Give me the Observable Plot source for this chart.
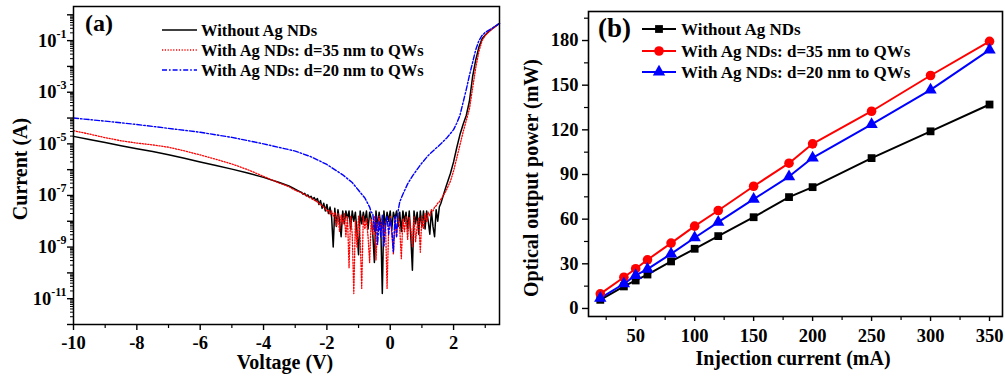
<!DOCTYPE html>
<html><head><meta charset="utf-8">
<script src="https://cdn.jsdelivr.net/npm/d3@7"></script>
<script src="https://cdn.jsdelivr.net/npm/@observablehq/plot@0.6"></script>
<style>
body{margin:0;background:#fff;}
#wrap{display:flex;width:1005px;height:379px;overflow:hidden;}
svg text{font-family:"Liberation Serif","Times New Roman",serif;font-weight:bold;}
</style></head><body><div id="wrap"></div>
<script>
// ---------- shared ----------
const seriesNames = ["Without Ag NDs", "With Ag NDs: d=35 nm to QWs", "With Ag NDs: d=20 nm to QWs"];
const seriesColors = ["#000000", "#ff0000", "#0000ff"];

// ---------- panel (a): I-V, log10 of current (A) ----------
const noiseV = [-2.80,-2.75,-2.70,-2.65,-2.60,-2.55,-2.50,-2.45,-2.40,-2.35,
  -2.30,-2.25,-2.20,-2.15,-2.10,-2.05,-2.00,-1.95,-1.90,-1.85,
  -1.80,-1.75,-1.70,-1.65,-1.60,-1.55,-1.50,-1.45,-1.40,-1.35,
  -1.30,-1.25,-1.20,-1.15,-1.10,-1.05,-1.00,-0.95,-0.90,-0.85,
  -0.80,-0.75,-0.70,-0.65,-0.60,-0.55,-0.50,-0.45,-0.40,-0.35,
  -0.30,-0.25,-0.20,-0.15,-0.10,-0.05,0.00,0.05,0.10,0.15,
  0.20,0.25,0.30,0.35,0.40,0.45,0.50,0.55,0.60,0.65,
  0.70,0.75,0.80,0.85,0.90,0.95,1.00,1.05,1.10,1.15,
  1.20,1.25,1.30,1.35,1.40,1.45,1.50,1.55,1.60];
const leftV = [-10,-9.5,-9,-8.5,-8,-7.5,-7,-6.5,-6,-5.5,-5,-4.5,-4,-3.5,-3.2,-3.0,-2.9];
const rightV = [1.65,1.75,1.9,2.0,2.1,2.2,2.3,2.4,2.5,2.6,2.7,2.8,2.9,3.0,3.1,3.2,3.3,3.45];

const blackLeftLog = [-4.71,-4.83,-4.95,-5.07,-5.19,-5.30,-5.42,-5.56,-5.70,-5.84,-5.98,-6.13,-6.30,-6.50,-6.63,-6.76,-6.82];
const blackNoiseLog = [-6.88,-6.95,-6.92,-7.02,-6.98,-7.08,-7.03,-7.15,-7.08,-7.20,
  -7.12,-7.35,-7.20,-7.50,-7.30,-7.60,-7.35,-7.70,-7.45,-7.85,
  -9.00,-7.50,-8.20,-7.55,-8.00,-8.60,-7.60,-8.10,-7.60,-7.90,
  -7.60,-8.30,-7.60,-8.00,-7.65,-8.40,-9.30,-7.60,-8.10,-7.65,
  -8.00,-7.60,-8.30,-7.65,-7.90,-8.50,-9.60,-7.60,-8.20,-7.65,
  -8.10,-10.80,-7.60,-8.20,-7.65,-8.00,-7.60,-8.30,-7.65,-7.90,
  -7.60,-8.20,-7.65,-8.40,-7.60,-8.00,-7.65,-8.30,-7.60,-8.60,
  -9.90,-7.60,-8.10,-7.65,-8.50,-7.60,-8.20,-7.60,-8.30,-7.60,
  -8.00,-8.50,-7.60,-8.20,-8.60,-7.55,-8.00,-7.45,-7.30];
const blackRightLog = [-7.10,-6.70,-6.15,-5.70,-5.15,-4.65,-4.25,-3.90,-3.35,-2.40,-1.75,-1.25,-0.93,-0.78,-0.66,-0.56,-0.47,-0.33];

const redLeftLog = [-4.49,-4.62,-4.76,-4.88,-4.97,-5.04,-5.13,-5.27,-5.43,-5.60,-5.78,-6.00,-6.26,-6.52,-6.66,-6.80,-6.85];
const redNoiseLog = [-6.90,-6.93,-6.97,-7.00,-7.03,-7.07,-7.10,-7.15,-7.18,-7.22,
  -7.25,-7.30,-7.35,-7.40,-7.45,-7.50,-7.60,-7.55,-7.75,-7.60,
  -7.80,-7.65,-8.20,-7.70,-8.40,-7.75,-8.10,-7.70,-8.60,-7.80,
  -9.80,-7.80,-8.50,-10.80,-8.00,-9.00,-7.80,-8.60,-10.60,-7.80,
  -8.30,-7.90,-8.60,-9.60,-7.90,-8.50,-7.80,-9.50,-8.20,-7.80,
  -8.40,-7.90,-8.80,-8.00,-10.60,-8.30,-7.80,-8.50,-9.27,-7.90,
  -8.60,-7.80,-8.30,-9.45,-7.90,-8.40,-7.80,-8.70,-7.85,-8.30,
  -9.00,-7.80,-8.80,-8.20,-7.85,-9.20,-7.80,-8.30,-7.70,-8.00,
  -7.65,-7.80,-7.55,-7.60,-7.45,-7.40,-7.30,-7.25,-7.15];
const redRightLog = [-7.05,-6.85,-6.45,-6.05,-5.55,-5.05,-4.55,-4.10,-3.65,-2.85,-2.05,-1.42,-1.00,-0.80,-0.67,-0.57,-0.47,-0.33];

const blueV = [-10,-9,-8,-7,-6,-5,-4,-3,-2.5,-2,-1.5,-1.2,-1.0,-0.8,-0.65,
  -0.60,-0.55,-0.50,-0.45,-0.40,-0.35,-0.30,-0.25,-0.20,-0.15,-0.10,-0.05,0.00,0.05,0.10,0.15,0.20,
  0.25,0.3,0.4,0.55,0.7,0.96,1.2,1.4,1.6,1.8,2.0,2.1,2.2,2.3,2.4,2.5,2.6,2.7,2.8,2.9,3.0,3.2,3.45];
const blueLog = [-4.00,-4.12,-4.25,-4.40,-4.55,-4.75,-5.00,-5.28,-5.50,-5.80,-6.20,-6.50,-6.80,-7.10,-7.45,
  -7.65,-7.70,-8.40,-7.80,-8.90,-8.00,-8.60,-7.75,-9.00,-8.10,-7.80,-8.50,-7.90,-8.30,-9.20,-7.80,-8.60,
  -7.60,-7.25,-6.95,-6.55,-6.25,-5.80,-5.45,-5.22,-5.00,-4.75,-4.45,-4.20,-3.90,-3.40,-2.90,-2.35,-1.85,-1.35,-1.00,-0.80,-0.68,-0.53,-0.33];

const voltTicks = [-10,-8,-6,-4,-2,0,2];
const voltMinor = [-9,-7,-5,-3,-1,1,3];
const decadeExps = [-12,-11,-10,-9,-8,-7,-6,-5,-4,-3,-2,-1,0];
const labeledExps = [-11,-9,-7,-5,-3,-1];

// ---------- panel (b): L-I ----------
const currentMA = [20,40,50,60,80,100,120,150,180,200,250,300,350];
const powerWithout = [5.8,14.8,18.8,22.8,31.6,40.1,48.6,61.3,74.8,81.5,101,119,137];
const power35 = [9.8,21,26.7,32.7,43.9,55.3,65.8,82.1,97.6,110.6,132.5,156.5,179.5];
const power20 = [6.9,16.6,22.2,26.4,36.7,47.5,58,73.4,88.6,101.2,123.6,146.8,173.7];
const mATicks = [50,100,150,200,250,300,350];
const mAMinor = [25,75,125,175,225,275,325];
const mWTicks = [0,30,60,90,120,150,180];
const mWMinor = [15,45,75,105,135,165,195];

// ---------- build tables ----------
const toRows = (vs, logs) => vs.map((v, k) => ({v, i: Math.pow(10, logs[k])}));
const blackRows = toRows([...leftV, ...noiseV, ...rightV], [...blackLeftLog, ...blackNoiseLog, ...blackRightLog]);
const redRows = toRows([...leftV, ...noiseV, ...rightV], [...redLeftLog, ...redNoiseLog, ...redRightLog]);
const blueRows = toRows(blueV, blueLog);

const decades = decadeExps.map(e => Math.pow(10, e));
const minors = [];
decadeExps.slice(0, -1).forEach(e => { for (let m = 2; m <= 9; m++) minors.push(m * Math.pow(10, e)); });

const font = "Liberation Serif, Times New Roman, serif";
const baseStyle = {background: "white", color: "black", fontFamily: font, fontSize: "18.5px", fontWeight: "bold", overflow: "visible"};

const lineStyles = [
  {stroke: seriesColors[0], strokeWidth: 1.5},
  {stroke: seriesColors[1], strokeWidth: 1.3, strokeDasharray: "1.2,1.6"},
  {stroke: seriesColors[2], strokeWidth: 1.4, strokeDasharray: "5,2,1.6,2"}
];

const pa = Plot.plot({
  width: 502, height: 379,
  marginLeft: 73, marginRight: 3, marginTop: 6, marginBottom: 55,
  style: baseStyle,
  x: {domain: [-10, 3.45]},
  y: {type: "log", domain: [1e-12, 2.1]},
  marks: [
    Plot.line(blackRows, {x: "v", y: "i", ...lineStyles[0]}),
    Plot.line(redRows, {x: "v", y: "i", ...lineStyles[1]}),
    Plot.line(blueRows, {x: "v", y: "i", ...lineStyles[2]}),
    Plot.frame({stroke: "black", strokeWidth: 1.5}),
    Plot.axisX(voltTicks, {tickSize: 6, tickPadding: 5, strokeWidth: 1.4, tickFormat: d => String(d), label: null}),
    Plot.axisX(voltMinor, {tickSize: 4, strokeWidth: 1.2, tickFormat: () => "", label: null}),
    Plot.axisY(decades, {tickSize: 6, tickPadding: 1, strokeWidth: 1.4, label: null,
      tickFormat: d => { const e = Math.round(Math.log10(d)); return labeledExps.includes(e) ? "10^" + e : ""; }}),
    Plot.axisY(minors, {tickSize: 3, strokeWidth: 1, tickFormat: () => "", label: null})
  ]
});

const bSeries = [powerWithout, power35, power20];
const bRows = bSeries.map(arr => currentMA.map((c, k) => ({c, p: arr[k]})));
const symbols = ["square", "circle", "triangle"];
const symR = [4.4, 4.8, 4.6];

const pb = Plot.plot({
  width: 503, height: 379,
  marginLeft: 86, marginRight: 3, marginTop: 11, marginBottom: 63,
  style: baseStyle,
  x: {domain: [10, 361]},
  y: {domain: [-5.4, 199.5]},
  marks: [
    ...bRows.map((rows, s) => Plot.line(rows, {x: "c", y: "p", stroke: seriesColors[s], strokeWidth: 2})),
    ...bRows.map((rows, s) => Plot.dot(rows, {x: "c", y: "p", fill: seriesColors[s], stroke: "none", symbol: symbols[s], r: symR[s]})),
    Plot.frame({stroke: "black", strokeWidth: 1.6}),
    Plot.axisX(mATicks, {tickSize: 5, tickPadding: 7, strokeWidth: 1.4, tickFormat: d => String(d), label: null}),
    Plot.axisX(mAMinor, {tickSize: 4, strokeWidth: 1.2, tickFormat: () => "", label: null}),
    Plot.axisY(mWTicks, {tickSize: 6, tickPadding: 4, strokeWidth: 1.4, tickFormat: d => String(d), label: null}),
    Plot.axisY(mWMinor, {tickSize: 4, strokeWidth: 1.2, tickFormat: () => "", label: null})
  ]
});

const wrap = document.getElementById("wrap");
wrap.appendChild(pa);
wrap.appendChild(pb);

// superscript log tick labels
d3.select(pa).selectAll("text").each(function() {
  const m = /^10\^(-?\d+)$/.exec(this.textContent);
  if (m) {
    const s = d3.select(this);
    s.selectAll("*").remove();
    s.text(null);
    s.append("tspan").text("10");
    s.append("tspan").attr("dy", "-9").attr("font-size", "12px").text(m[1]);
  }
});

function addText(svg, x, y, txt, size, anchor, rotate) {
  const t = d3.select(svg).append("text")
    .attr("font-family", font).attr("font-weight", "bold").attr("font-size", size)
    .attr("text-anchor", anchor || "start").attr("fill", "black").text(txt);
  t.attr("transform", `translate(${x},${y})` + (rotate ? ` rotate(${rotate})` : ""));
  return t;
}

// panel (a) annotations
addText(pa, 85, 31, "(a)", "24px");
addText(pa, 285, 369, "Voltage (V)", "20px", "middle");
addText(pa, 27, 169, "Current (A)", "20px", "middle", -90);
const la = d3.select(pa).append("g");
[30, 50, 70].forEach((y, s) => {
  const st = lineStyles[s];
  la.append("line").attr("x1", 162).attr("x2", 197).attr("y1", y).attr("y2", y)
    .attr("stroke", st.stroke).attr("stroke-width", st.strokeWidth)
    .attr("stroke-dasharray", st.strokeDasharray || null);
  addText(pa, 201, y + 5.5, seriesNames[s], "16.5px");
});

// panel (b) annotations
addText(pb, 96, 37, "(b)", "27px");
addText(pb, 291, 365, "Injection current (mA)", "20px", "middle");
addText(pb, 36, 178, "Optical output power (mW)", "20px", "middle", -90);
const lb = d3.select(pb).append("g");
const symGen = [d3.symbolSquare, d3.symbolCircle, d3.symbolTriangle];
[29, 51, 72].forEach((y, s) => {
  lb.append("line").attr("x1", 140).attr("x2", 174).attr("y1", y).attr("y2", y)
    .attr("stroke", seriesColors[s]).attr("stroke-width", 2);
  lb.append("path").attr("d", d3.symbol(symGen[s], Math.PI * symR[s] * symR[s])())
    .attr("transform", `translate(157,${y})`).attr("fill", seriesColors[s]);
  addText(pb, 179, y + 6, seriesNames[s], "17px");
});
</script></body></html>
